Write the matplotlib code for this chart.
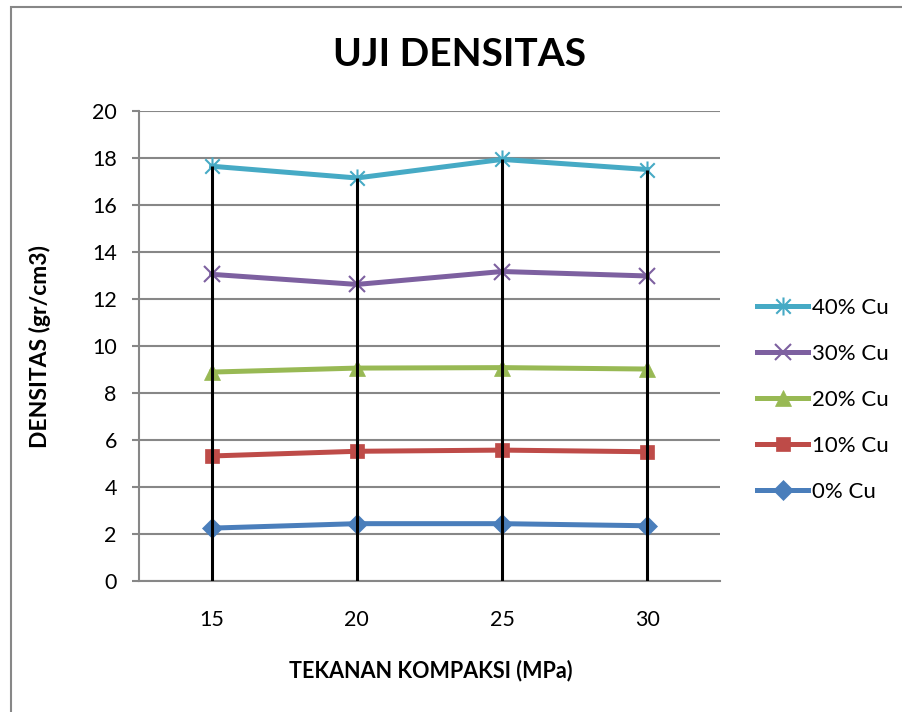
import numpy as np
import matplotlib
matplotlib.use("Agg")
import matplotlib.pyplot as plt
from matplotlib.path import Path
from matplotlib.patches import Rectangle

# Data (stacked line values as plotted)
categories = ["15", "20", "25", "30"]
cu_0 = [2.25, 2.44, 2.44, 2.35]
cu_10 = [5.32, 5.52, 5.57, 5.50]
cu_20 = [8.89, 9.06, 9.08, 9.02]
cu_30 = [13.05, 12.62, 13.17, 12.98]
cu_40 = [17.65, 17.15, 17.94, 17.51]
series_labels = ["0% Cu", "10% Cu", "20% Cu", "30% Cu", "40% Cu"]

plt.rcParams["font.family"] = ["Lato", "DejaVu Sans"]

W, H = 903, 712
fig = plt.figure(figsize=(W / 100, H / 100), dpi=100)
ax = fig.add_axes([139 / W, 1 - 581 / H, (720 - 139) / W, (581 - 111) / H])

# asterisk marker (x with a vertical bar), like Excel's star
star = Path(
    [(-1, -1), (1, 1), (-1, 1), (1, -1), (0, -1.25), (0, 1.25)],
    [Path.MOVETO, Path.LINETO, Path.MOVETO, Path.LINETO, Path.MOVETO, Path.LINETO],
)

styles = [
    ("#4A7EBB", "D", 10),
    ("#BE4B48", "s", 10),
    ("#98B954", "^", 11),
    ("#7D60A0", "x", 12),
    ("#46AAC5", star, 13),
]

x = np.arange(len(categories))
handles = []
for vals, lab, (col, mk, ms) in zip([cu_0, cu_10, cu_20, cu_30, cu_40], series_labels, styles):
    thin = mk == "x" or mk is star
    (h,) = ax.plot(x, vals, color=col, lw=3.6, marker=mk, markersize=ms,
                   markeredgewidth=1.5 if thin else 0.5,
                   markeredgecolor=col, markerfacecolor=col, label=lab, zorder=3,
                   clip_on=False)
    handles.append(h)

# drop lines from the top series to the axis
ax.vlines(x, 0, cu_40, color="black", lw=2.2, zorder=4)

ax.set_xlim(-0.5, 3.5)
ax.set_ylim(0, 20)
ax.set_yticks(np.arange(0, 21, 2))
ax.set_xticks(x)
ax.set_xticklabels(categories)
ax.yaxis.grid(True, color="#878787", lw=1.5)
ax.set_axisbelow(True)
for s in ("top", "right"):
    ax.spines[s].set_visible(False)
for s in ("left", "bottom"):
    ax.spines[s].set_color("#878787")
    ax.spines[s].set_linewidth(1.5)
ax.tick_params(axis="y", length=5, width=1.5, color="#878787", pad=11, labelsize=15.5)
ax.tick_params(axis="x", length=0, pad=21, labelsize=15.5)

fig.text(460 / W, 1 - 55 / H, "UJI DENSITAS", ha="center", va="center",
         fontsize=28, fontweight="bold")
fig.text(431 / W, 1 - 671 / H, "TEKANAN KOMPAKSI (MPa)", ha="center", va="center",
         fontsize=15.5, fontweight="bold")
fig.text(40 / W, 1 - 346 / H, "DENSITAS (gr/cm3)", ha="center", va="center",
         rotation=90, fontsize=16.5, fontweight="bold")

ax.legend(handles[::-1], series_labels[::-1], loc="center left",
          bbox_to_anchor=(757 / W, 1 - 400 / H), bbox_transform=fig.transFigure,
          frameon=False, borderpad=0, borderaxespad=0, handlelength=2.3,
          handletextpad=0.18, labelspacing=1.17, fontsize=16)

# outer chart frame
fig.add_artist(Rectangle((11 / W, -0.05), 1.1, 1.05 - 7 / H, transform=fig.transFigure,
                         fill=False, edgecolor="#878787", lw=1.5))

fig.savefig("out.png", dpi=100)
